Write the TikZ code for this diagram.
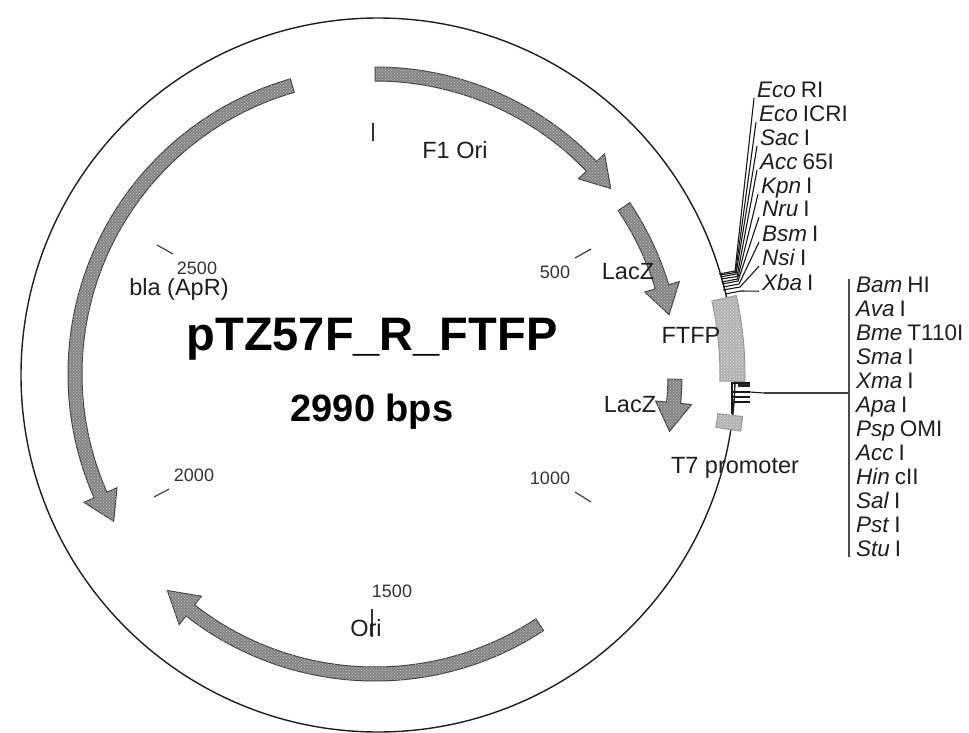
\documentclass[tikz,border=0pt]{standalone}
\usepackage{fontspec}
\setmainfont{Liberation Sans}
\usepackage{tikz}
\usetikzlibrary{patterns}

\tikzset{
  genefill/.style={draw=black!75,line width=1pt,fill=gray!95,
    postaction={pattern=crosshatch dots,pattern color=gray!50}},
  boxfill/.style={draw=gray!85,line width=1pt,fill=gray!60,
    postaction={pattern=crosshatch dots,pattern color=gray!25}},
  featlabel/.style={font=\fontsize{23.5}{25}\selectfont,text=black!88,inner sep=0pt},
  numlabel/.style={font=\fontsize{18}{20}\selectfont,text=black!80,inner sep=0pt},
  sitelabel/.style={font=\fontsize{22.5}{24}\selectfont,text=black!88,anchor=west,
    inner xsep=3pt,inner ysep=1pt,text height=16pt,text depth=0pt},
  sitetick/.style={line width=1.1pt,black!90},
}
% band from angle #1, head starts at #2, tip at #3
\newcommand{\genearrow}[3]{
  \path[genefill] (#1:307pt) arc[start angle=#1,end angle=#2,radius=307pt]
    -- (#2:318pt) -- (#3:300pt) -- (#2:282pt) -- (#2:293pt)
    arc[start angle=#2,end angle=#1,radius=293pt] -- cycle;
}
% piece of ring on the circle, angles #1 to #2
\newcommand{\genebox}[2]{
  \path[boxfill] (#1:367pt) arc[start angle=#1,end angle=#2,radius=367pt]
    -- (#2:342pt) arc[start angle=#2,end angle=#1,radius=342pt] -- cycle;
}

\begin{document}
\begin{tikzpicture}[x=1pt,y=-1pt]
  \useasboundingbox (0,0) rectangle (969,732);
  \clip (0,0) rectangle (969,732);
  \draw[line width=1.4pt,black!88] (378,375) circle[radius=357pt]; % the plasmid

  \begin{scope}[shift={(375,374)}]
    \genearrow{90}{43.8}{38.2}      % F1 Ori
    \genearrow{33.9}{16.9}{11.4}    % LacZ, upper
    \genearrow{-1}{-5.5}{-11}       % LacZ, lower
    \genearrow{-56.7}{-128}{-133.8} % Ori
    \genearrow{106}{203.8}{209.4}   % bla
  \end{scope}
  \begin{scope}[shift={(378,375)}]
    \genebox{12.5}{-1}    % FTFP
    \genebox{-6.5}{-8.8}  % T7 promoter
  \end{scope}

  % scale marks
  \foreach \xa/\ya/\xb/\yb in {373/123/373/141,575/258/591/249,575/492/591/502,
      372/609/372/637,154/497/169/489,157/245/173/254}
    \draw[line width=1.1pt,black!80] (\xa,\ya) -- (\xb,\yb);

  \node[numlabel] (n500) at (555,272) {500};
  \node[numlabel] (n1000) at (550,478) {1000};
  \node[numlabel] (n1500) at (392,591) {1500};
  \node[numlabel] (n2000) at (194,475) {2000};
  \node[numlabel] (n2500) at (197,268) {2500};

  \node[featlabel] (fori) at (455,150) {F1 Ori};
  \node[featlabel] (lacza) at (628,272) {LacZ};
  \node[featlabel] (laczb) at (630,405) {LacZ};
  \node[featlabel] (ftfp) at (691,335) {FTFP};
  \node[featlabel,anchor=base] (tseven) at (735,473) {T7 promoter};
  \node[featlabel,anchor=base] (bla) at (179,295) {bla (ApR)};
  \node[featlabel] (ori) at (366,628) {Ori};

  \node[font=\bfseries\fontsize{47}{50}\selectfont,inner sep=0pt,anchor=base] (title) at (372,350) {pTZ57F\_R\_FTFP};
  \node[font=\bfseries\fontsize{38}{40}\selectfont,inner sep=0pt,anchor=base] (size) at (372,421) {2990 bps};

  % upper sites, each with its tick and a line up to the name
  \foreach \sname/\sx/\sy/\ital/\rest/\lx/\ly/\rx/\ry in {
      ecor/757/89/Eco/RI/719/274/735/271,
      ecoi/759/113/Eco/ICRI/720/275/735.5/272.5,
      sac/760/137/Sac/I/720.5/277/736/274,
      acc/760/161/Acc/65I/721/279/737/276.5,
      kpn/761/185/Kpn/I/721.5/282/737.5/279,
      nru/762/208/Nru/I/722/284/738/281,
      bsm/762/233/Bsm/I/723/287/739/284,
      nsi/762/257/Nsi/I/723/290/740/287,
      xba/762/282/Xba/I/725/294/741/291} {
    \node[sitelabel] (\sname) at (\sx-3,\sy) {\textit{\ital}\hspace{5pt}\rest};
    \draw[sitetick] (\lx,\ly) -- (\rx,\ry) -- (\sname.south west);
  }

  % lower sites, they share one line
  \foreach \sname/\sy/\ital/\rest in {
      bam/284/Bam/HI,ava/308/Ava/I,bme/332/Bme/T110I,sma/356/Sma/I,
      xma/380/Xma/I,apa/404/Apa/I,psp/428/Psp/OMI,accb/452/Acc/I,
      hin/476/Hin/cII,sal/500/Sal/I,pst/524/Pst/I,stu/548/Stu/I}
    \node[sitelabel,inner xsep=7pt] (\sname) at (849,\sy) {\textit{\ital}\hspace{5pt}\rest};
  \draw[line width=1.4pt,black!70,shorten <=4pt] (bam.north west) -- (stu.south west);
  \coordinate (hub) at (764,393);
  \draw[line width=1.1pt,black!90] (732,382) -- (732,414);
  \draw[line width=4pt,black!85] (738,385) -- (750,385);
  \foreach \y in {392,397,402} {
    \draw[sitetick,line width=1.4pt] (732,\y) -- (750,\y);
  }
  \draw[sitetick] (732,383) -- (750,383);
  \draw[sitetick] (750,392) -- (hub);
  \draw[line width=1.2pt,black!75] (hub) -- (hub -| bam.west);
\end{tikzpicture}
\end{document}
